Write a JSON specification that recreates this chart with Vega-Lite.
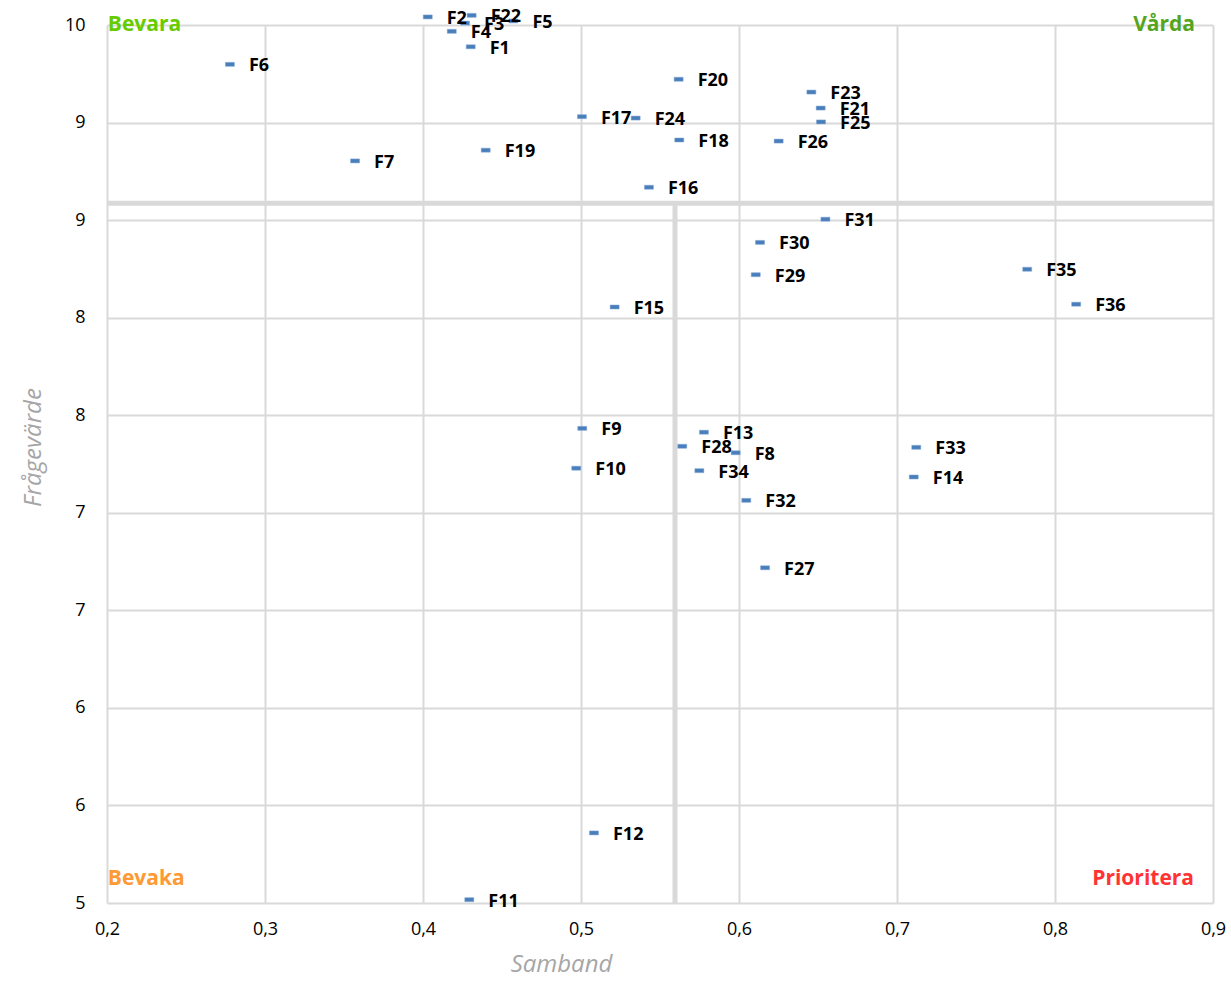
{
  "$schema": "https://vega.github.io/schema/vega-lite/v6.json",
  "width": 1106,
  "height": 878,
  "autosize": {"type": "none"},
  "padding": {"left": 107, "top": 25, "right": 18, "bottom": 78},
  "background": "white",
  "config": {
    "view": {"stroke": null},
    "font": "Open Sans"
  },
  "datasets": {
    "pts": [
      {"id": "F1", "samband": 0.4302, "varde": 9.876},
      {"id": "F2", "samband": 0.4030, "varde": 10.046},
      {"id": "F3", "samband": 0.4266, "varde": 10.011},
      {"id": "F4", "samband": 0.4182, "varde": 9.964},
      {"id": "F5", "samband": 0.4572, "varde": 10.023},
      {"id": "F6", "samband": 0.2778, "varde": 9.776},
      {"id": "F7", "samband": 0.3570, "varde": 9.226},
      {"id": "F8", "samband": 0.5979, "varde": 7.564},
      {"id": "F9", "samband": 0.5008, "varde": 7.703},
      {"id": "F10", "samband": 0.4970, "varde": 7.476},
      {"id": "F11", "samband": 0.4293, "varde": 5.019},
      {"id": "F12", "samband": 0.5082, "varde": 5.399},
      {"id": "F13", "samband": 0.5778, "varde": 7.681},
      {"id": "F14", "samband": 0.7106, "varde": 7.426},
      {"id": "F15", "samband": 0.5213, "varde": 8.394},
      {"id": "F16", "samband": 0.5430, "varde": 9.076},
      {"id": "F17", "samband": 0.5006, "varde": 9.478},
      {"id": "F18", "samband": 0.5622, "varde": 9.345},
      {"id": "F19", "samband": 0.4397, "varde": 9.287},
      {"id": "F20", "samband": 0.5618, "varde": 9.691},
      {"id": "F21", "samband": 0.6517, "varde": 9.527},
      {"id": "F22", "samband": 0.4308, "varde": 10.055},
      {"id": "F23", "samband": 0.6458, "varde": 9.618},
      {"id": "F24", "samband": 0.5346, "varde": 9.470},
      {"id": "F25", "samband": 0.6519, "varde": 9.448},
      {"id": "F26", "samband": 0.6251, "varde": 9.339},
      {"id": "F27", "samband": 0.6165, "varde": 6.909},
      {"id": "F28", "samband": 0.5641, "varde": 7.601},
      {"id": "F29", "samband": 0.6106, "varde": 8.578},
      {"id": "F30", "samband": 0.6133, "varde": 8.762},
      {"id": "F31", "samband": 0.6547, "varde": 8.894},
      {"id": "F32", "samband": 0.6046, "varde": 7.293},
      {"id": "F33", "samband": 0.7122, "varde": 7.595},
      {"id": "F34", "samband": 0.5749, "varde": 7.462},
      {"id": "F35", "samband": 0.7824, "varde": 8.609},
      {"id": "F36", "samband": 0.8134, "varde": 8.410}
    ],
    "quadLeft": [
      {"label": "Bevara", "samband": 0.2005, "varde": 10.0, "color": "#66cc00"},
      {"label": "Bevaka", "samband": 0.2005, "varde": 5.137, "color": "#ff9933"}
    ],
    "quadRight": [
      {"label": "Vårda", "samband": 0.8886, "varde": 10.0, "color": "#55a51c"},
      {"label": "Prioritera", "samband": 0.888, "varde": 5.137, "color": "#ff3333"}
    ],
    "cross": [
      {"samband": 0.5595, "varde": 8.985}
    ]
  },
  "layer": [
    {
      "data": {"name": "cross"},
      "mark": {"type": "rule", "color": "#d9d9d9", "strokeWidth": 5},
      "encoding": {
        "x": {
          "field": "samband", "type": "quantitative",
          "scale": {"domain": [0.2, 0.9], "nice": false, "zero": false},
          "axis": {
            "values": [0.2, 0.3, 0.4, 0.5, 0.6, 0.7, 0.8, 0.9],
            "labelExpr": "replace(format(datum.value, '.1f'), '.', ',')",
            "title": "Samband",
            "titleFont": "Open Sans",
            "titleFontStyle": "italic",
            "titleFontWeight": "normal",
            "titleFontSize": 24,
            "titleColor": "#a6a6a6",
            "titleX": 454,
            "titlePadding": 14,
            "labelFont": "Open Sans",
            "labelFontSize": 18,
            "labelColor": "#000000",
            "labelPadding": 17,
            "ticks": false,
            "domain": false,
            "grid": true,
            "gridColor": "#d9d9d9",
            "gridWidth": 2,
            "labelFlush": false
          }
        },
        "y": {
          "field": "varde", "type": "quantitative",
          "scale": {"domain": [5, 10], "nice": false, "zero": false},
          "axis": {
            "values": [5, 5.5555556, 6.1111111, 6.6666667, 7.2222222, 7.7777778, 8.3333333, 8.8888889, 9.4444444, 10],
            "format": ".0f",
            "title": "Frågevärde",
            "titleFont": "Open Sans",
            "titleFontStyle": "italic",
            "titleFontWeight": "normal",
            "titleFontSize": 24,
            "titleColor": "#a6a6a6",
            "titleY": 422,
            "titlePadding": 19,
            "labelFont": "Open Sans",
            "labelFontSize": 18,
            "labelColor": "#000000",
            "labelPadding": 22,
            "ticks": false,
            "domain": false,
            "grid": true,
            "gridColor": "#d9d9d9",
            "gridWidth": 2,
            "labelFlush": false
          }
        }
      }
    },
    {
      "data": {"name": "cross"},
      "mark": {"type": "rule", "color": "#d9d9d9", "strokeWidth": 5},
      "encoding": {
        "y": {"field": "varde", "type": "quantitative"}
      }
    },
    {
      "data": {"name": "pts"},
      "mark": {"type": "tick", "orient": "horizontal", "size": 9, "thickness": 4, "color": "#4a7ebb", "opacity": 1, "stroke": "#7ea6d6", "strokeWidth": 0.5},
      "encoding": {
        "x": {"field": "samband", "type": "quantitative"},
        "y": {"field": "varde", "type": "quantitative"}
      }
    },
    {
      "data": {"name": "pts"},
      "mark": {"type": "text", "align": "left", "baseline": "middle", "dx": 19, "dy": 2, "font": "Open Sans", "fontSize": 18, "fontWeight": "bold", "color": "#000000"},
      "encoding": {
        "x": {"field": "samband", "type": "quantitative"},
        "y": {"field": "varde", "type": "quantitative"},
        "text": {"field": "id", "type": "nominal"}
      }
    },
    {
      "data": {"name": "quadLeft"},
      "mark": {"type": "text", "align": "left", "baseline": "middle", "font": "Open Sans", "fontSize": 21, "fontWeight": "bold"},
      "encoding": {
        "x": {"field": "samband", "type": "quantitative"},
        "y": {"field": "varde", "type": "quantitative"},
        "text": {"field": "label", "type": "nominal"},
        "color": {"field": "color", "type": "nominal", "scale": null}
      }
    },
    {
      "data": {"name": "quadRight"},
      "mark": {"type": "text", "align": "right", "baseline": "middle", "font": "Open Sans", "fontSize": 21, "fontWeight": "bold"},
      "encoding": {
        "x": {"field": "samband", "type": "quantitative"},
        "y": {"field": "varde", "type": "quantitative"},
        "text": {"field": "label", "type": "nominal"},
        "color": {"field": "color", "type": "nominal", "scale": null}
      }
    }
  ]
}
